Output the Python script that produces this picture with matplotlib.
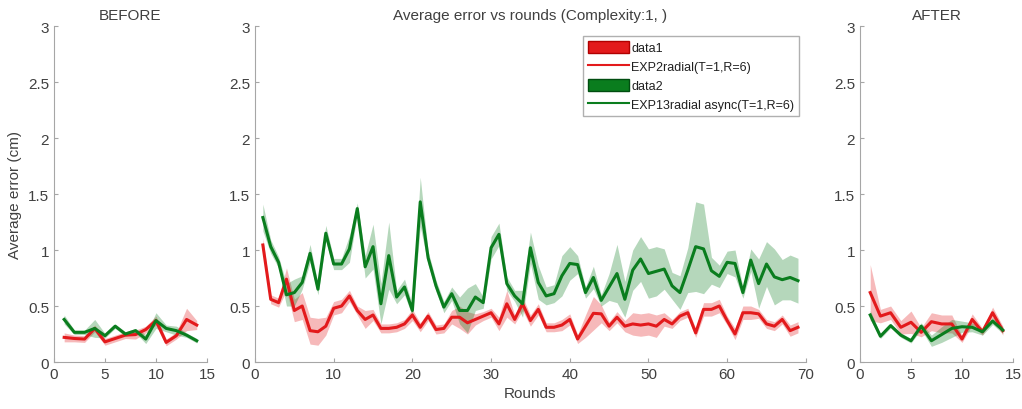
import matplotlib
matplotlib.use("Agg")
import matplotlib.pyplot as plt
from matplotlib.patches import Patch
from matplotlib.lines import Line2D
import numpy as np

plt.rcParams['font.family'] = ['Liberation Sans', 'DejaVu Sans']

# BEFORE panel (rounds 1..14)
before_red = [0.22, 0.21, 0.205, 0.30, 0.18, 0.21, 0.24, 0.245, 0.29, 0.37, 0.175, 0.235, 0.38, 0.33]
before_red_sd = [0.04, 0.03, 0.03, 0.03, 0.03, 0.03, 0.03, 0.04, 0.03, 0.04, 0.03, 0.03, 0.1, 0.04]
before_green = [0.38, 0.265, 0.265, 0.30, 0.235, 0.32, 0.25, 0.28, 0.205, 0.37, 0.30, 0.28, 0.24, 0.19]
before_green_sd = [0.04, 0.02, 0.02, 0.08, 0.02, 0.02, 0.02, 0.02, 0.04, 0.07, 0.03, 0.04, 0.02, 0.02]

# middle panel (rounds 1..69)
mid_red = [1.045, 0.56, 0.53, 0.74, 0.46, 0.50, 0.28, 0.27, 0.32, 0.48,
           0.50, 0.59, 0.46, 0.38, 0.42, 0.30, 0.30, 0.31, 0.34, 0.42,
           0.31, 0.41, 0.29, 0.30, 0.40, 0.40, 0.35, 0.38, 0.41, 0.44,
           0.34, 0.52, 0.38, 0.52, 0.37, 0.47, 0.31, 0.31, 0.33, 0.38,
           0.205, 0.32, 0.435, 0.43, 0.32, 0.40, 0.32, 0.34, 0.33, 0.34,
           0.32, 0.38, 0.34, 0.41, 0.44, 0.26, 0.47, 0.47, 0.50, 0.37,
           0.25, 0.44, 0.44, 0.43, 0.34, 0.32, 0.38, 0.28, 0.31]
mid_red_sd = [0.06, 0.04, 0.04, 0.1, 0.1, 0.12, 0.12, 0.12, 0.08, 0.06,
              0.06, 0.05, 0.04, 0.08, 0.05, 0.04, 0.04, 0.04, 0.04, 0.05,
              0.04, 0.04, 0.04, 0.04, 0.06, 0.1, 0.1, 0.05, 0.04, 0.04,
              0.06, 0.12, 0.04, 0.06, 0.05, 0.05, 0.04, 0.04, 0.05, 0.05,
              0.04, 0.1, 0.15, 0.08, 0.04, 0.05, 0.05, 0.1, 0.1, 0.1,
              0.1, 0.06, 0.04, 0.04, 0.04, 0.04, 0.06, 0.06, 0.06, 0.04,
              0.05, 0.06, 0.06, 0.04, 0.04, 0.04, 0.04, 0.05, 0.05]
mid_green = [1.29, 1.03, 0.89, 0.60, 0.62, 0.71, 0.97, 0.65, 1.15, 0.875,
             0.875, 1.01, 1.37, 0.85, 1.03, 0.52, 0.95, 0.58, 0.67, 0.46,
             1.43, 0.93, 0.68, 0.49, 0.61, 0.46, 0.46, 0.58, 0.53, 1.02,
             1.14, 0.70, 0.59, 0.52, 1.02, 0.71, 0.59, 0.61, 0.77, 0.88,
             0.87, 0.62, 0.755, 0.55, 0.67, 0.79, 0.56, 0.82, 0.92, 0.79,
             0.81, 0.83, 0.68, 0.62, 0.82, 1.03, 1.01, 0.815, 0.765, 0.89,
             0.88, 0.62, 0.91, 0.70, 0.875, 0.76, 0.735, 0.755, 0.726]
mid_green_sd = [0.12, 0.06, 0.05, 0.1, 0.12, 0.06, 0.08, 0.05, 0.07, 0.05,
                0.05, 0.12, 0.05, 0.1, 0.2, 0.18, 0.3, 0.06, 0.07, 0.05,
                0.22, 0.06, 0.05, 0.05, 0.06, 0.12, 0.2, 0.12, 0.05, 0.1,
                0.1, 0.06, 0.05, 0.12, 0.14, 0.15, 0.08, 0.08, 0.18, 0.15,
                0.08, 0.05, 0.1, 0.05, 0.12, 0.26, 0.16, 0.18, 0.2, 0.22,
                0.22, 0.18, 0.12, 0.15, 0.2, 0.4, 0.4, 0.12, 0.1, 0.1,
                0.12, 0.05, 0.1, 0.22, 0.2, 0.25, 0.18, 0.2, 0.2]

# AFTER panel (rounds 1..14)
after_red = [0.62, 0.41, 0.44, 0.31, 0.355, 0.265, 0.36, 0.34, 0.34, 0.205, 0.38, 0.27, 0.44, 0.28]
after_red_sd = [0.25, 0.06, 0.06, 0.06, 0.1, 0.04, 0.08, 0.08, 0.08, 0.03, 0.05, 0.03, 0.05, 0.04]
after_green = [0.42, 0.23, 0.325, 0.24, 0.19, 0.32, 0.19, 0.245, 0.30, 0.315, 0.31, 0.27, 0.365, 0.285]
after_green_sd = [0.04, 0.02, 0.02, 0.02, 0.02, 0.03, 0.05, 0.07, 0.08, 0.05, 0.04, 0.03, 0.03, 0.03]

RED = '#e31a1c'
GREEN = '#0a7d1e'
AXC = '#a6a6a6'
TXC = '#404040'


def draw(ax, red, red_sd, green, green_sd, xmax, xticks, title):
    x = np.arange(1, len(red) + 1)
    red = np.array(red); red_sd = np.array(red_sd)
    green = np.array(green); green_sd = np.array(green_sd)
    ax.fill_between(x, red - red_sd, red + red_sd, color=RED, alpha=0.3, lw=0)
    ax.fill_between(x, green - green_sd, green + green_sd, color=GREEN, alpha=0.3, lw=0)
    ax.plot(x, red, color=RED, lw=2.2)
    ax.plot(x, green, color=GREEN, lw=2.2)
    ax.set_xlim(0, xmax)
    ax.set_ylim(0, 3)
    ax.set_xticks(xticks)
    ax.set_yticks([0, 0.5, 1, 1.5, 2, 2.5, 3])
    ax.set_yticklabels(['0', '0.5', '1', '1.5', '2', '2.5', '3'])
    for s in ['top', 'right']:
        ax.spines[s].set_visible(False)
    for s in ['left', 'bottom']:
        ax.spines[s].set_color(AXC)
    ax.tick_params(direction='in', colors=AXC, labelcolor=TXC, labelsize=11, length=3)
    ax.set_title(title, fontsize=11, color=TXC, pad=5)


fig = plt.figure(figsize=(10.22, 4.10), dpi=100)
ax1 = fig.add_axes([0.0528, 0.1146, 0.1497, 0.8195])
ax2 = fig.add_axes([0.2495, 0.1146, 0.539, 0.8195])
ax3 = fig.add_axes([0.8415, 0.1146, 0.1497, 0.8195])

draw(ax1, before_red, before_red_sd, before_green, before_green_sd, 15, [0, 5, 10, 15], 'BEFORE')
draw(ax2, mid_red, mid_red_sd, mid_green, mid_green_sd, 70, list(range(0, 71, 10)),
     'Average error vs rounds (Complexity:1, )')
draw(ax3, after_red, after_red_sd, after_green, after_green_sd, 15, [0, 5, 10, 15], 'AFTER')

ax1.set_ylabel('Average error (cm)', fontsize=11, color=TXC)
ax2.set_xlabel('Rounds', fontsize=11, color=TXC)

handles = [Patch(facecolor=RED, edgecolor='#b00000'),
           Line2D([], [], color=RED, lw=1.5),
           Patch(facecolor=GREEN, edgecolor='#004d10'),
           Line2D([], [], color=GREEN, lw=1.5)]
labels = ['data1', 'EXP2radial(T=1,R=6)', 'data2', 'EXP13radial async(T=1,R=6)']
leg = ax2.legend(handles, labels, loc='upper left', bbox_to_anchor=(0.595, 0.97),
                 fontsize=9, handlelength=3.3, handleheight=1.1, handletextpad=0.2,
                 labelspacing=0.45, borderpad=0.4, borderaxespad=0,
                 fancybox=False, framealpha=1, edgecolor='#b0b0b0')
for t in leg.get_texts():
    t.set_color('#202020')

fig.savefig('out.png', dpi=100)
